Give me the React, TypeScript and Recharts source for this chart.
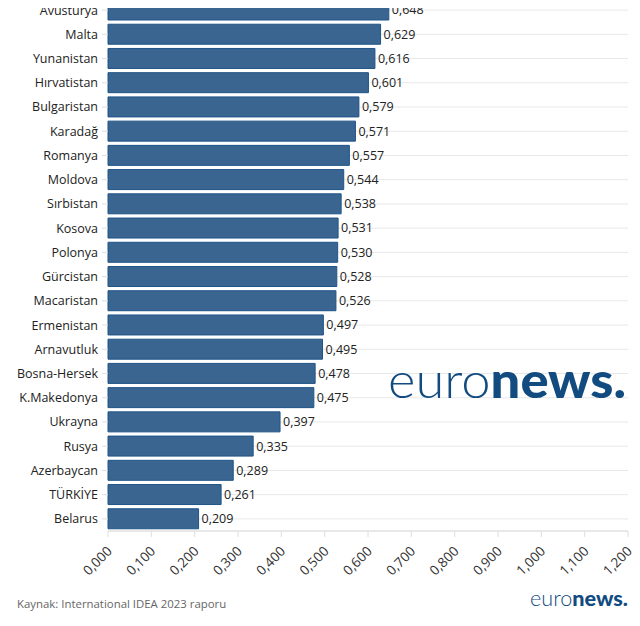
import React from "react";
import { BarChart, Bar, XAxis, YAxis, CartesianGrid, LabelList } from "recharts";

const countries = [
  "Avusturya", "Malta", "Yunanistan", "Hırvatistan", "Bulgaristan", "Karadağ",
  "Romanya", "Moldova", "Sırbistan", "Kosova", "Polonya", "Gürcistan",
  "Macaristan", "Ermenistan", "Arnavutluk", "Bosna-Hersek", "K.Makedonya",
  "Ukrayna", "Rusya", "Azerbaycan", "TÜRKİYE", "Belarus",
];
const scores = [
  0.648, 0.629, 0.616, 0.601, 0.579, 0.571, 0.557, 0.544, 0.538, 0.531, 0.53,
  0.528, 0.526, 0.497, 0.495, 0.478, 0.475, 0.397, 0.335, 0.289, 0.261, 0.209,
];
const xTicks = [0, 0.1, 0.2, 0.3, 0.4, 0.5, 0.6, 0.7, 0.8, 0.9, 1.0, 1.1, 1.2];
const sourceText = "Kaynak: International IDEA 2023 raporu";

const data = countries.map((name, i) => ({ name, score: scores[i] }));

const fmt = (v: number) => v.toFixed(3).replace(".", ",");
const FONT = "'Open Sans', sans-serif";
const BLUE = "#3a6591";
const LOGO = "#114b7f";

// rotated tick label, its end sits just right of and below the tick
function XTick({ x, y, payload }: any) {
  const ex = x + 5;
  const ey = y + 13;
  return (
    <text
      x={ex}
      y={ey}
      textAnchor="end"
      transform={`rotate(-45, ${ex}, ${ey})`}
      fontSize={13.5}
      fontFamily={FONT}
      fill="#333"
    >
      {fmt(payload.value)}
    </text>
  );
}

function Logo({ x, y, size, width }: { x: number; y: number; size: number; width: number }) {
  return (
    <text
      x={x}
      y={y}
      fontFamily="Lato, sans-serif"
      fontSize={size}
      fill={LOGO}
      textLength={width}
      lengthAdjust="spacingAndGlyphs"
    >
      <tspan fontWeight={300}>euro</tspan>
      <tspan fontWeight={900}>news.</tspan>
    </text>
  );
}

export default function App() {
  return (
    <div style={{ position: "relative", width: 640, height: 626, margin: -8, overflow: "hidden", background: "#fff" }}>
      <div style={{ position: "absolute", left: 0, top: -2 }}>
        <BarChart
          width={640}
          height={602}
          data={data}
          layout="vertical"
          margin={{ top: 0, right: 12, bottom: 0, left: 0 }}
          barCategoryGap={2}
        >
          <CartesianGrid horizontal vertical={false} stroke="#e8e8e8" />
          <XAxis
            type="number"
            domain={[0, 1.2]}
            ticks={xTicks}
            interval={0}
            height={69}
            tick={<XTick />}
            tickSize={6}
            axisLine={{ stroke: "#dedede" }}
            tickLine={{ stroke: "#dedede" }}
          />
          <YAxis
            type="category"
            dataKey="name"
            width={108}
            interval={0}
            tickSize={6}
            tickMargin={4}
            axisLine={false}
            tickLine={{ stroke: "#dedede" }}
            tick={{ fontSize: 12.5, fontFamily: FONT, fill: "#222" }}
          />
          <Bar dataKey="score" fill={BLUE} stroke="#1f5487" strokeWidth={1} isAnimationActive={false}>
            <LabelList
              dataKey="score"
              position="right"
              offset={3}
              formatter={(v: number) => fmt(v)}
              style={{ fontSize: 12.5, fontFamily: FONT, fill: "#222" }}
            />
          </Bar>
        </BarChart>
      </div>
      <svg width={640} height={626} style={{ position: "absolute", left: 0, top: 0, pointerEvents: "none" }}>
        <Logo x={388} y={398} size={50} width={238} />
        <text x={17} y={608} fontFamily={FONT} fontSize={11.4} fill="#666">
          {sourceText}
        </text>
        <Logo x={530} y={606} size={21} width={98} />
      </svg>
    </div>
  );
}
